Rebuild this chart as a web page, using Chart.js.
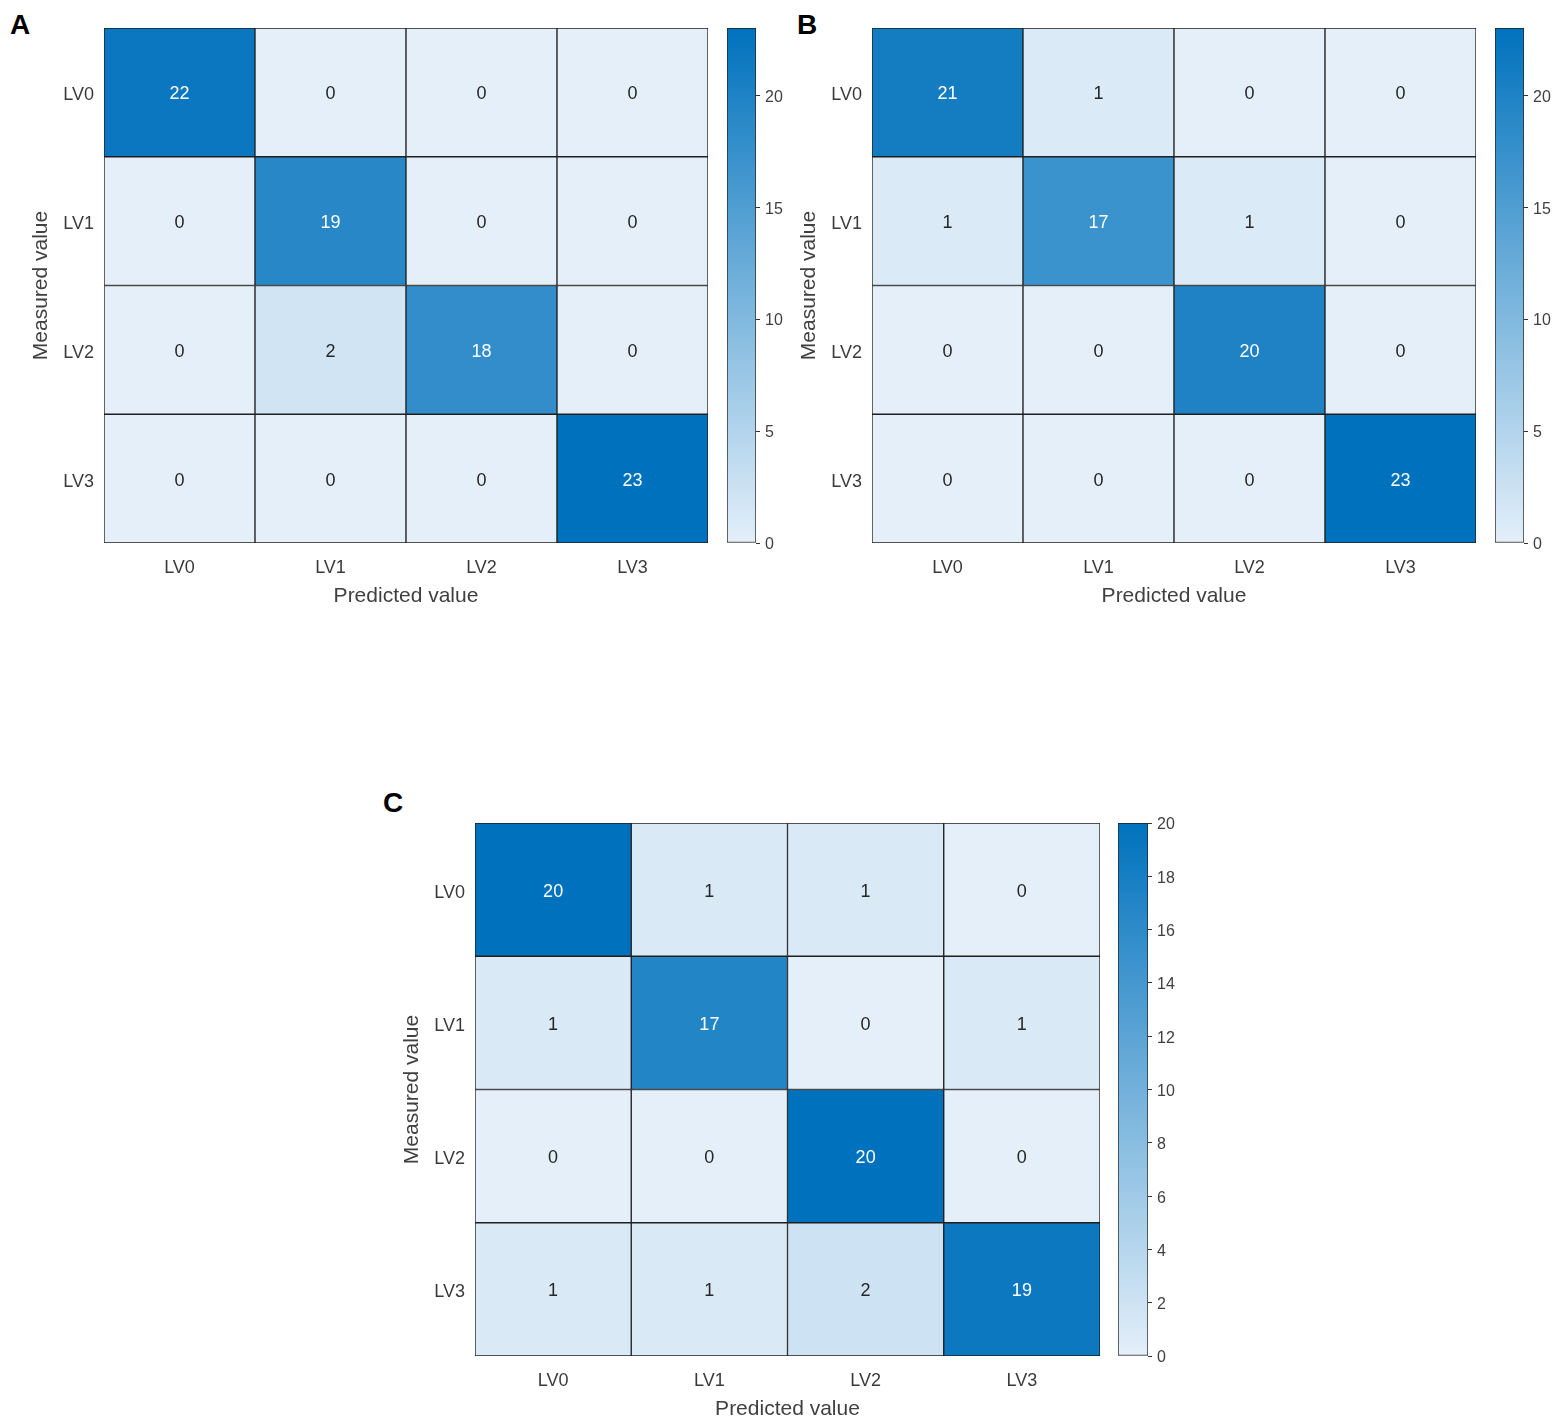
<!DOCTYPE html>
<html>
<head>
<meta charset="utf-8">
<script src="https://cdn.jsdelivr.net/npm/chart.js@4/dist/chart.umd.min.js"></script>
<style>
  html, body { margin:0; padding:0; background:#fff; }
  #page { position:relative; width:1562px; height:1425px; overflow:hidden; background:#fff; }
  canvas { position:absolute; }
  .lbl { position:absolute; font-family:"Liberation Sans", Arial, sans-serif; font-weight:bold; font-size:28px; line-height:28px; color:#000; }
</style>
</head>
<body>
<div id="page">
  <div class="lbl" style="left:10px; top:11px;">A</div>
  <div class="lbl" style="left:797px; top:11px;">B</div>
  <div class="lbl" style="left:383px; top:789px;">C</div>
  <canvas id="hmA" width="720" height="612" style="left:0px; top:0px;"></canvas>
  <canvas id="cbA" width="110" height="612" style="left:700px; top:0px;"></canvas>
  <canvas id="hmB" width="720" height="612" style="left:768px; top:0px;"></canvas>
  <canvas id="cbB" width="90" height="612" style="left:1468px; top:0px;"></canvas>
  <canvas id="hmC" width="741" height="630" style="left:371px; top:795px;"></canvas>
  <canvas id="cbC" width="110" height="630" style="left:1091px; top:795px;"></canvas>
</div>
<script>
// ---- data ----
const rowLabels = ['LV0', 'LV1', 'LV2', 'LV3'];
const colLabels = ['LV0', 'LV1', 'LV2', 'LV3'];
const valuesA = [[22, 0, 0, 0], [0, 19, 0, 0], [0, 2, 18, 0], [0, 0, 0, 23]];
const valuesB = [[21, 1, 0, 0], [1, 17, 1, 0], [0, 0, 20, 0], [0, 0, 0, 23]];
const valuesC = [[20, 1, 1, 0], [1, 17, 0, 1], [0, 0, 20, 0], [1, 1, 2, 19]];
const colorMaxA = 23;
const colorMaxB = 23;
const colorMaxC = 20;
const colorTicksA = [0, 5, 10, 15, 20];
const colorTicksB = [0, 5, 10, 15, 20];
const colorTicksC = [0, 2, 4, 6, 8, 10, 12, 14, 16, 18, 20];
const xTitle = 'Predicted value';
const yTitle = 'Measured value';

// ---- style ----
const FONT = '"Liberation Sans", Arial, sans-serif';
const LOW = [228, 239, 249];
const HIGH = [0, 114, 189];
function colorFor(v, max) {
  const t = Math.max(0, Math.min(1, v / max));
  const c = LOW.map((l, i) => Math.round(l + (HIGH[i] - l) * t));
  return `rgb(${c[0]},${c[1]},${c[2]})`;
}

const cellText = {
  id: 'cellText',
  afterDatasetsDraw(chart) {
    const ctx = chart.ctx;
    ctx.save();
    ctx.font = `18px ${FONT}`;
    ctx.textAlign = 'center';
    ctx.textBaseline = 'middle';
    chart.data.datasets.forEach((ds, r) => {
      const meta = chart.getDatasetMeta(r);
      meta.data.forEach((el, c) => {
        const v = ds.cellValues[c];
        ctx.fillStyle = (v / ds.colorMax > 0.5) ? '#ffffff' : '#262626';
        ctx.fillText(String(v), el.x, (el.y + el.base) / 2 + 2);
      });
    });
    ctx.restore();
  }
};

function makeHeatmap(id, values, max, yWidth) {
  new Chart(document.getElementById(id), {
    type: 'bar',
    data: {
      labels: colLabels,
      datasets: values.map((row, r) => ({
        data: row.map(() => [r - 0.5, r + 0.5]),
        cellValues: row,
        colorMax: max,
        backgroundColor: row.map(v => colorFor(v, max)),
        borderColor: '#1f1f1f',
        borderWidth: 1,
        borderSkipped: false,
        grouped: false,
        categoryPercentage: 1,
        barPercentage: 1
      }))
    },
    options: {
      responsive: false,
      animation: false,
      layout: { padding: { left: 23, right: 12, top: 28, bottom: 0 } },
      plugins: { legend: { display: false }, tooltip: { enabled: false } },
      scales: {
        x: {
          type: 'category',
          grid: { display: false, drawTicks: false },
          border: { display: false },
          ticks: { font: { family: FONT, size: 18 }, color: '#3a3a3a', padding: 14 },
          title: { display: true, text: xTitle, font: { family: FONT, size: 21 }, color: '#404040', padding: { top: 4, bottom: 3 } },
          afterFit: s => { s.height = 69; }
        },
        y: {
          type: 'linear',
          min: -0.5,
          max: 3.5,
          reverse: true,
          grid: { display: false, drawTicks: false },
          border: { display: false },
          afterBuildTicks: s => { s.ticks = rowLabels.map((_, i) => ({ value: i })); },
          ticks: { font: { family: FONT, size: 18 }, color: '#3a3a3a', padding: 10, labelOffset: 3, callback: v => rowLabels[v] },
          title: { display: true, text: yTitle, font: { family: FONT, size: 21 }, color: '#404040', padding: { top: 6, bottom: 4 } },
          afterFit: s => { s.width = yWidth; }
        }
      }
    },
    plugins: [cellText]
  });
}

function makeColorbar(id, max, ticks, axisWidth, bottomPad) {
  new Chart(document.getElementById(id), {
    type: 'bar',
    data: {
      labels: [''],
      datasets: [{
        data: [[0, max]],
        backgroundColor: (ctx) => {
          const chart = ctx.chart;
          const area = chart.chartArea;
          if (!area) return colorFor(0, max);
          const ys = chart.scales.y;
          const g = chart.ctx.createLinearGradient(0, ys.getPixelForValue(0), 0, ys.getPixelForValue(max));
          g.addColorStop(0, colorFor(0, max));
          g.addColorStop(1, colorFor(max, max));
          return g;
        },
        borderColor: '#1f1f1f',
        borderWidth: 1,
        borderSkipped: false,
        categoryPercentage: 1,
        barPercentage: 1
      }]
    },
    options: {
      responsive: false,
      animation: false,
      layout: { padding: { left: 27, right: 0, top: 28, bottom: bottomPad } },
      plugins: { legend: { display: false }, tooltip: { enabled: false } },
      scales: {
        x: { display: false },
        y: {
          position: 'right',
          min: 0,
          max: max,
          afterBuildTicks: s => { s.ticks = ticks.map(v => ({ value: v })); },
          grid: { drawOnChartArea: false, drawTicks: true, tickLength: 4, color: '#333333' },
          border: { display: false },
          ticks: { font: { family: FONT, size: 16 }, color: '#404040', padding: 5, labelOffset: 2 },
          afterFit: s => { s.width = axisWidth; }
        }
      }
    }
  });
}

makeHeatmap('hmA', valuesA, colorMaxA, 81);
makeColorbar('cbA', colorMaxA, colorTicksA, 110 - 27 - 29, 69);
makeHeatmap('hmB', valuesB, colorMaxB, 81);
makeColorbar('cbB', colorMaxB, colorTicksB, 90 - 27 - 29, 69);
makeHeatmap('hmC', valuesC, colorMaxC, 81);
makeColorbar('cbC', colorMaxC, colorTicksC, 110 - 27 - 30, 69);
</script>
</body>
</html>
